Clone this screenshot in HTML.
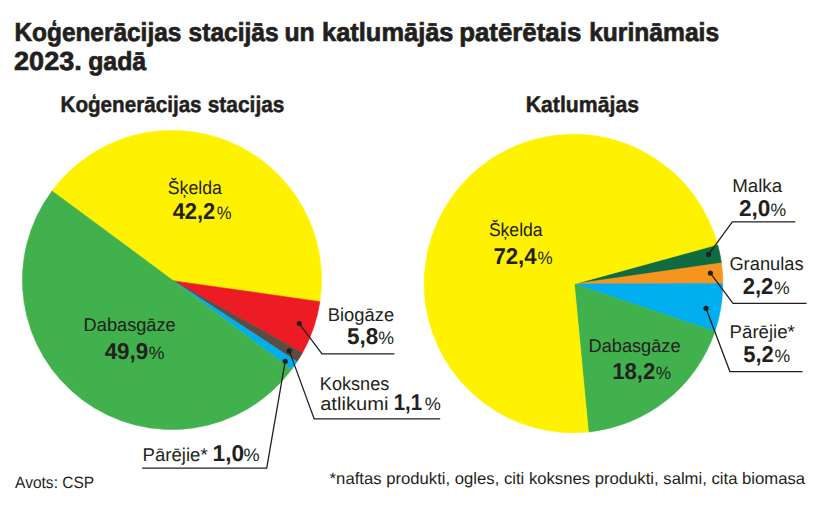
<!DOCTYPE html>
<html><head><meta charset="utf-8"><style>
html,body{margin:0;padding:0;background:#fff;}
svg{display:block;text-rendering:geometricPrecision;font-family:"Liberation Sans",sans-serif;}
</style></head><body>
<svg width="820" height="508" viewBox="0 0 820 508">
<rect width="820" height="508" fill="#fff"/>
<path d="M173.60,280.90 L52.00,190.93 A149.39999999999998,149.39999999999998 0 0 1 319.89,301.68 Z" fill="#fff200" stroke="#fff200" stroke-width="0.6" stroke-linejoin="round"/>
<path d="M173.60,280.90 L319.89,301.68 A149.39999999999998,149.39999999999998 0 0 1 302.39,352.91 Z" fill="#ed1c24" stroke="#ed1c24" stroke-width="0.6" stroke-linejoin="round"/>
<path d="M173.60,280.90 L302.39,352.91 A149.39999999999998,149.39999999999998 0 0 1 297.03,361.74 Z" fill="#5b4c44" stroke="#5b4c44" stroke-width="0.6" stroke-linejoin="round"/>
<path d="M173.60,280.90 L297.03,361.74 A149.39999999999998,149.39999999999998 0 0 1 291.64,369.42 Z" fill="#00aeef" stroke="#00aeef" stroke-width="0.6" stroke-linejoin="round"/>
<path d="M173.60,280.90 L291.64,369.42 A149.39999999999998,149.39999999999998 0 0 1 52.00,190.93 Z" fill="#40b14d" stroke="#40b14d" stroke-width="0.6" stroke-linejoin="round"/>
<path d="M574.30,283.90 L717.65,244.61 A149.29999999999998,149.29999999999998 0 0 1 721.38,262.98 Z" fill="#116b40" stroke="#116b40" stroke-width="0.6" stroke-linejoin="round"/>
<path d="M574.30,283.90 L721.38,262.98 A149.29999999999998,149.29999999999998 0 0 1 722.80,283.55 Z" fill="#f7941d" stroke="#f7941d" stroke-width="0.6" stroke-linejoin="round"/>
<path d="M574.30,283.90 L722.80,283.55 A149.29999999999998,149.29999999999998 0 0 1 714.89,331.47 Z" fill="#00aeef" stroke="#00aeef" stroke-width="0.6" stroke-linejoin="round"/>
<path d="M574.30,283.90 L714.89,331.47 A149.29999999999998,149.29999999999998 0 0 1 588.43,432.05 Z" fill="#40b14d" stroke="#40b14d" stroke-width="0.6" stroke-linejoin="round"/>
<path d="M574.30,283.90 L588.43,432.05 A149.29999999999998,149.29999999999998 0 1 1 717.65,244.61 Z" fill="#fff200" stroke="#fff200" stroke-width="0.6" stroke-linejoin="round"/>
<text x="14.41" y="40.5" font-size="26" font-weight="bold" stroke="#231f20" stroke-width="0.7" textLength="166.95" lengthAdjust="spacingAndGlyphs" fill="#231f20">Koģenerācijas</text>
<text x="188.59" y="40.5" font-size="26" font-weight="bold" stroke="#231f20" stroke-width="0.7" textLength="90.08" lengthAdjust="spacingAndGlyphs" fill="#231f20">stacijās</text>
<text x="284.41" y="40.5" font-size="26" font-weight="bold" stroke="#231f20" stroke-width="0.7" textLength="30.26" lengthAdjust="spacingAndGlyphs" fill="#231f20">un</text>
<text x="322.07" y="40.5" font-size="26" font-weight="bold" stroke="#231f20" stroke-width="0.7" textLength="131.43" lengthAdjust="spacingAndGlyphs" fill="#231f20">katlumājās</text>
<text x="459.14" y="40.5" font-size="26" font-weight="bold" stroke="#231f20" stroke-width="0.7" textLength="122.18" lengthAdjust="spacingAndGlyphs" fill="#231f20">patērētais</text>
<text x="589.13" y="40.5" font-size="26" font-weight="bold" stroke="#231f20" stroke-width="0.7" textLength="130.04" lengthAdjust="spacingAndGlyphs" fill="#231f20">kurināmais</text>
<text x="14.00" y="69.5" font-size="26" font-weight="bold" stroke="#231f20" stroke-width="0.7" textLength="67.80" lengthAdjust="spacingAndGlyphs" fill="#231f20">2023.</text>
<text x="88.13" y="69.5" font-size="26" font-weight="bold" stroke="#231f20" stroke-width="0.7" textLength="58.07" lengthAdjust="spacingAndGlyphs" fill="#231f20">gadā</text>
<text x="60.47" y="111.7" font-size="22.4" font-weight="bold" stroke="#231f20" stroke-width="0.5" textLength="141.14" lengthAdjust="spacingAndGlyphs" fill="#231f20">Koģenerācijas</text>
<text x="207.72" y="111.7" font-size="22.4" font-weight="bold" stroke="#231f20" stroke-width="0.5" textLength="76.80" lengthAdjust="spacingAndGlyphs" fill="#231f20">stacijas</text>
<text x="525.73" y="111.7" font-size="22.4" font-weight="bold" stroke="#231f20" stroke-width="0.5" textLength="113.30" lengthAdjust="spacingAndGlyphs" fill="#231f20">Katlumājas</text>
<text x="167.79" y="193.8" font-size="18.5" textLength="54.13" lengthAdjust="spacingAndGlyphs" fill="#231f20">Šķelda</text>
<text x="172.67" y="218.8" font-size="22.8" font-weight="bold" textLength="42.61" lengthAdjust="spacingAndGlyphs" fill="#231f20">42,2</text><text x="216.80" y="218.8" font-size="18" textLength="14.78" lengthAdjust="spacingAndGlyphs" fill="#231f20">%</text>
<text x="83.61" y="330.8" font-size="18.5" textLength="92.10" lengthAdjust="spacingAndGlyphs" fill="#231f20">Dabasgāze</text>
<text x="104.66" y="358.5" font-size="22.8" font-weight="bold" textLength="43.57" lengthAdjust="spacingAndGlyphs" fill="#231f20">49,9</text><text x="148.86" y="358.5" font-size="18" textLength="15.76" lengthAdjust="spacingAndGlyphs" fill="#231f20">%</text>
<text x="327.80" y="320.8" font-size="18.5" textLength="66.31" lengthAdjust="spacingAndGlyphs" fill="#231f20">Biogāze</text>
<text x="347.10" y="344.2" font-size="22.8" font-weight="bold" textLength="31.19" lengthAdjust="spacingAndGlyphs" fill="#231f20">5,8</text><text x="378.16" y="344.2" font-size="18" textLength="15.76" lengthAdjust="spacingAndGlyphs" fill="#231f20">%</text>
<text x="319.81" y="390.2" font-size="18.5" textLength="69.55" lengthAdjust="spacingAndGlyphs" fill="#231f20">Koksnes</text>
<text x="320.15" y="409.5" font-size="18.5" textLength="68.29" lengthAdjust="spacingAndGlyphs" fill="#231f20">atlikumi</text>
<text x="393.71" y="409.6" font-size="22.8" font-weight="bold" textLength="28.36" lengthAdjust="spacingAndGlyphs" fill="#231f20">1,1</text><text x="424.85" y="409.6" font-size="18" textLength="16.09" lengthAdjust="spacingAndGlyphs" fill="#231f20">%</text>
<text x="142.58" y="460.8" font-size="18.5" textLength="65.12" lengthAdjust="spacingAndGlyphs" fill="#231f20">Pārējie*</text>
<text x="212.57" y="461" font-size="22.8" font-weight="bold" textLength="31.56" lengthAdjust="spacingAndGlyphs" fill="#231f20">1,0</text><text x="243.55" y="461" font-size="18" textLength="16.09" lengthAdjust="spacingAndGlyphs" fill="#231f20">%</text>
<text x="488.89" y="235.8" font-size="18.5" textLength="53.72" lengthAdjust="spacingAndGlyphs" fill="#231f20">Šķelda</text>
<text x="493.45" y="263.5" font-size="22.8" font-weight="bold" textLength="43.17" lengthAdjust="spacingAndGlyphs" fill="#231f20">72,4</text><text x="537.49" y="263.5" font-size="18" textLength="15.11" lengthAdjust="spacingAndGlyphs" fill="#231f20">%</text>
<text x="588.51" y="351.6" font-size="18.5" textLength="92.10" lengthAdjust="spacingAndGlyphs" fill="#231f20">Dabasgāze</text>
<text x="612.20" y="378.8" font-size="22.8" font-weight="bold" textLength="43.19" lengthAdjust="spacingAndGlyphs" fill="#231f20">18,2</text><text x="655.68" y="378.8" font-size="18" textLength="15.33" lengthAdjust="spacingAndGlyphs" fill="#231f20">%</text>
<text x="732.16" y="191.9" font-size="18.5" textLength="49.94" lengthAdjust="spacingAndGlyphs" fill="#231f20">Malka</text>
<text x="739.01" y="215.5" font-size="22.8" font-weight="bold" textLength="31.42" lengthAdjust="spacingAndGlyphs" fill="#231f20">2,0</text><text x="770.57" y="215.5" font-size="18" textLength="15.65" lengthAdjust="spacingAndGlyphs" fill="#231f20">%</text>
<text x="729.38" y="270.3" font-size="18.5" textLength="74.27" lengthAdjust="spacingAndGlyphs" fill="#231f20">Granulas</text>
<text x="742.63" y="294.1" font-size="22.8" font-weight="bold" textLength="30.76" lengthAdjust="spacingAndGlyphs" fill="#231f20">2,2</text><text x="773.97" y="294.1" font-size="18" textLength="15.65" lengthAdjust="spacingAndGlyphs" fill="#231f20">%</text>
<text x="729.57" y="337.5" font-size="18.5" textLength="65.33" lengthAdjust="spacingAndGlyphs" fill="#231f20">Pārējie*</text>
<text x="743.22" y="362.4" font-size="22.8" font-weight="bold" textLength="30.56" lengthAdjust="spacingAndGlyphs" fill="#231f20">5,2</text><text x="774.57" y="362.4" font-size="18" textLength="15.65" lengthAdjust="spacingAndGlyphs" fill="#231f20">%</text>
<path d="M299.3,323.6 L322,353.9 L394.4,353.9" fill="none" stroke="#231f20" stroke-width="1.3"/>
<circle cx="299.3" cy="323.6" r="2.6" fill="#231f20"/>
<path d="M289.3,350.9 L314.2,418.9 L440.2,418.9" fill="none" stroke="#231f20" stroke-width="1.3"/>
<circle cx="289.3" cy="350.9" r="2.6" fill="#231f20"/>
<path d="M285.2,361.3 L266.7,468.2 L142.2,468.2" fill="none" stroke="#231f20" stroke-width="1.3"/>
<circle cx="285.2" cy="361.3" r="2.6" fill="#231f20"/>
<path d="M708.6,254.3 L732.3,221.9 L795.3,221.9" fill="none" stroke="#231f20" stroke-width="1.3"/>
<circle cx="708.6" cy="254.3" r="2.6" fill="#231f20"/>
<path d="M710.4,273.1 L733,303.3 L806.5,303.3" fill="none" stroke="#231f20" stroke-width="1.3"/>
<circle cx="710.4" cy="273.1" r="2.6" fill="#231f20"/>
<path d="M706,308.3 L729.9,371.6 L802.5,371.6" fill="none" stroke="#231f20" stroke-width="1.3"/>
<circle cx="706" cy="308.3" r="2.6" fill="#231f20"/>
<text x="15.07" y="487.8" font-size="16.5" textLength="79.15" lengthAdjust="spacingAndGlyphs" fill="#231f20">Avots: CSP</text>
<text x="329.63" y="483.8" font-size="16.5" textLength="475.47" lengthAdjust="spacingAndGlyphs" fill="#231f20">*naftas produkti, ogles, citi koksnes produkti, salmi, cita biomasa</text>
</svg>
</body></html>
